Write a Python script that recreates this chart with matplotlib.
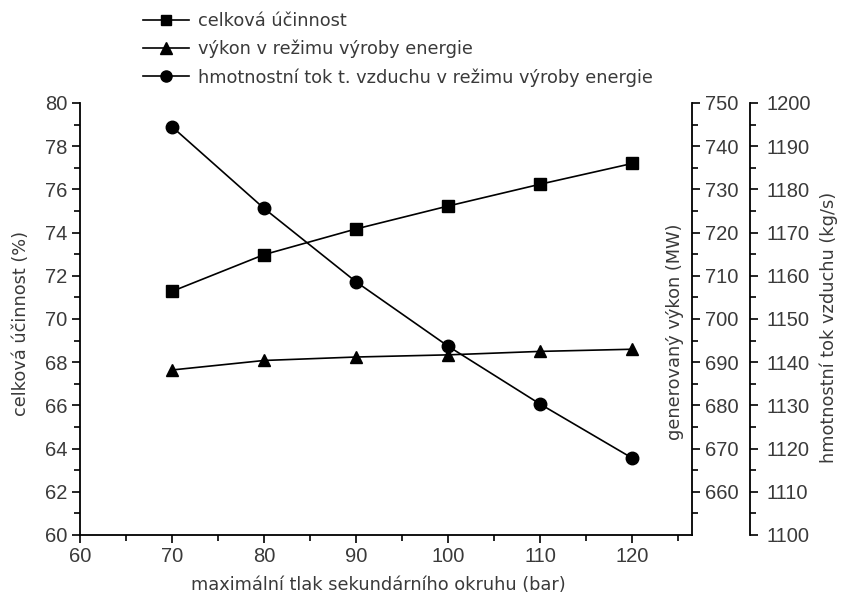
import numpy as np
import matplotlib
matplotlib.use("Agg")
import matplotlib.pyplot as plt
from matplotlib.ticker import MultipleLocator, FixedLocator
from matplotlib.lines import Line2D

plt.rcParams.update({"font.family": "DejaVu Sans", "font.size": 12})

# data
tlak = [70, 80, 90, 100, 110, 120]                       # bar
ucinnost = [71.28, 72.98, 74.17, 75.23, 76.24, 77.2]       # %
vykon = [688.2, 690.4, 691.2, 691.7, 692.5, 693.0]        # MW
tok = [1194.5, 1175.6, 1158.6, 1143.7, 1130.3, 1117.8]    # kg/s

LAB_TXT = ["celková účinnost", "výkon v režimu výroby energie",
           "hmotnostní tok t. vzduchu v režimu výroby energie"]
TXT = "#3a3a3a"
TICKFONT = "Liberation Sans"
LABSIZE = 12.8

fig = plt.figure(figsize=(8.42, 5.96), dpi=100)
ax = fig.add_axes([80 / 842, 1 - 535 / 596, 612 / 842, 432 / 596])
ax2 = ax.twinx()
ax3 = ax.twinx()

kw = dict(color="black", lw=1.2)
ax.plot(tlak, ucinnost, marker="s", ms=8, **kw)
ax2.plot(tlak, vykon, marker="^", ms=9, **kw)
ax3.plot(tlak, tok, marker="o", ms=9, **kw)

# --- left / bottom axis
ax.set_xlim(60, 126.5)
ax.set_ylim(60, 80)
ax.xaxis.set_major_locator(FixedLocator([60, 70, 80, 90, 100, 110, 120]))
ax.xaxis.set_minor_locator(FixedLocator([65, 75, 85, 95, 105, 115, 125]))
ax.yaxis.set_major_locator(MultipleLocator(2))
ax.yaxis.set_minor_locator(MultipleLocator(1))
for s in ["top", "right"]:
    ax.spines[s].set_visible(False)
ax.set_xlabel("maximální tlak sekundárního okruhu (bar)", color=TXT, fontsize=LABSIZE)
ax.xaxis.set_label_coords(0.487, -0.095)
ax.set_ylabel("celková účinnost (%)", color=TXT, fontsize=LABSIZE)
ax.yaxis.set_label_coords(-0.082, 0.49)

# --- MW axis
ax2.set_ylim(650, 750)
ax2.yaxis.set_major_locator(FixedLocator(np.arange(660, 751, 10)))
ax2.yaxis.set_minor_locator(FixedLocator(np.arange(655, 750, 10)))
for s in ["top", "left", "bottom"]:
    ax2.spines[s].set_visible(False)
ax2.set_ylabel("generovaný výkon (MW)", color=TXT, fontsize=LABSIZE)
ax2.yaxis.set_label_coords(0.957, 0.47)

# --- kg/s axis
ax3.set_ylim(1100, 1200)
ax3.spines["right"].set_position(("axes", 1.095))
ax3.yaxis.set_major_locator(MultipleLocator(10))
ax3.yaxis.set_minor_locator(MultipleLocator(5))
for s in ["top", "left", "bottom"]:
    ax3.spines[s].set_visible(False)
ax3.set_ylabel("hmotnostní tok vzduchu (kg/s)", color=TXT, fontsize=LABSIZE)
ax3.yaxis.set_label_coords(1.208, 0.48)

for a in (ax, ax2, ax3):
    a.tick_params(which="major", direction="out", length=6, width=1.2, pad=3,
                  labelsize=14.5, labelcolor=TXT)
    a.tick_params(which="minor", direction="out", length=4, width=1.2)
    for sp in a.spines.values():
        sp.set_linewidth(1.3)
    for t in a.get_xticklabels() + a.get_yticklabels():
        t.set_family(TICKFONT)
ax3.tick_params(which="major", pad=6)

# legend at the top
handles = [Line2D([], [], marker=m, ms=ms, **kw) for m, ms in [("s", 7), ("^", 8), ("o", 8)]]
fig.legend(handles, LAB_TXT, loc="upper left", bbox_to_anchor=(143 / 842, 1 - 12 / 596),
           frameon=False, handlelength=2.6, handletextpad=0.5, labelspacing=0.55,
           borderpad=0, borderaxespad=0, fontsize=LABSIZE, labelcolor=TXT)

fig.savefig("out.png", dpi=100)
